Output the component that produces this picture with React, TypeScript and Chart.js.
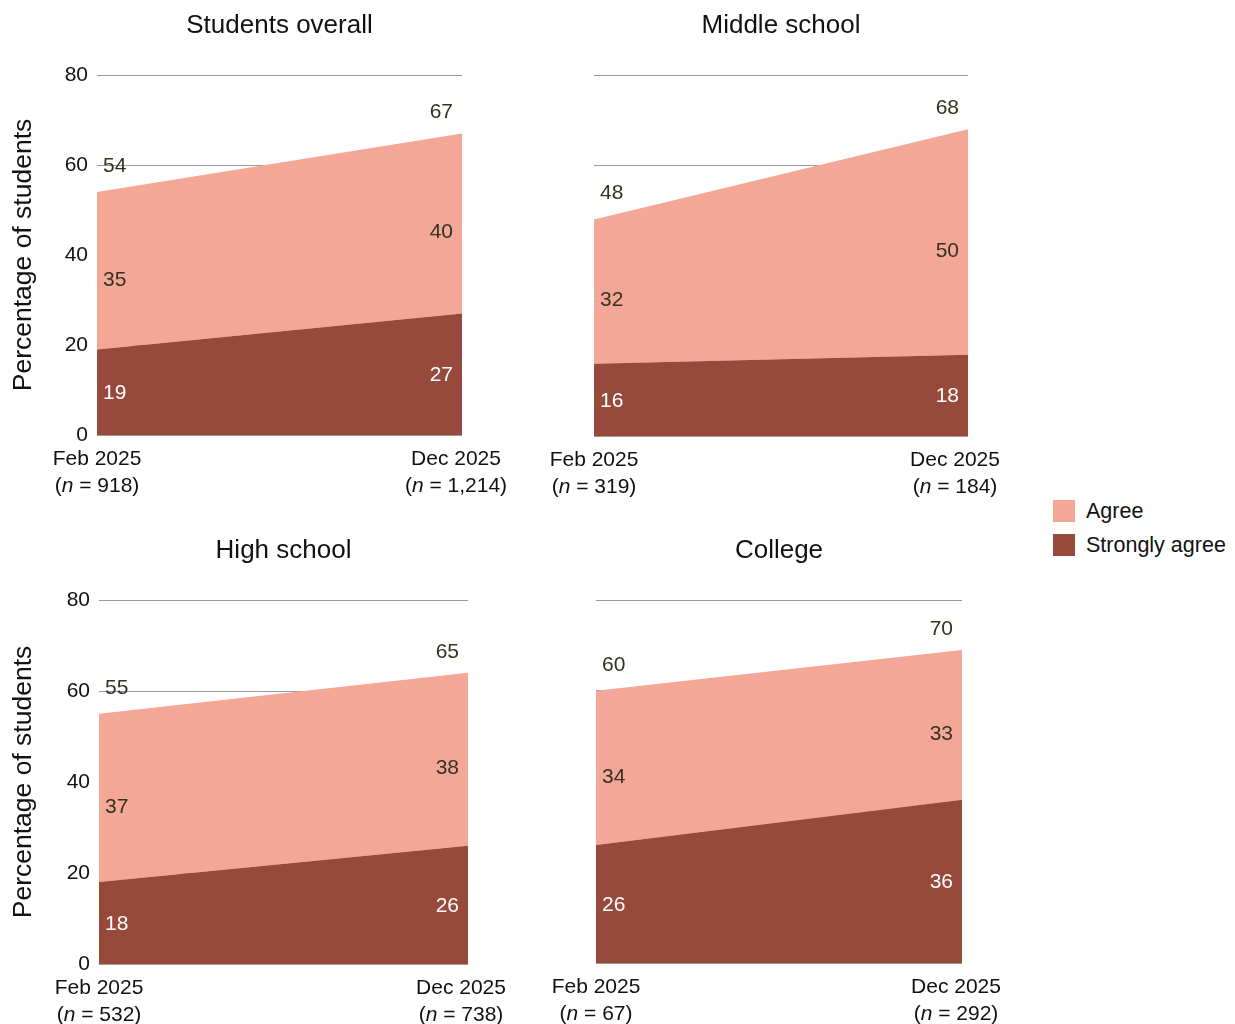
import React, { useEffect, useRef } from 'react';
import { Chart, registerables } from 'chart.js';

Chart.register(...registerables);

const FONT = '"Liberation Sans", Arial, Helvetica, sans-serif';
const AGREE_COLOR = '#F4A797';
const STRONG_COLOR = '#974A3C';
const DARK_TEXT = '#33331f';
const AXIS_TEXT = '#111111';

const periods = ['Feb 2025', 'Dec 2025'];
const yTicks = [0, 20, 40, 60, 80];

const overallStrong = [19, 27];
const overallAgree = [35, 40];
const overallTotal = [54, 67];
const overallN = ['918', '1,214'];

const middleStrong = [16, 18];
const middleAgree = [32, 50];
const middleTotal = [48, 68];
const middleN = ['319', '184'];

const highStrong = [18, 26];
const highAgree = [37, 38];
const highTotal = [55, 65];
const highN = ['532', '738'];

const collegeStrong = [26, 36];
const collegeAgree = [34, 33];
const collegeTotal = [60, 70];
const collegeN = ['67', '292'];

type PanelSpec = {
  title: string;
  strong: number[];
  agree: number[];
  total: number[];
  n: string[];
  left: number;
  top: number;
  width: number;
  height: number;
  axisWidth: number;
  padRight: number;
  xAxisHeight: number;
  showY: boolean;
  decShift: number;
};

const panels: PanelSpec[] = [
  { title: 'Students overall', strong: overallStrong, agree: overallAgree, total: overallTotal, n: overallN,
    left: 0, top: 0, width: 530, height: 510, axisWidth: 97, padRight: 68, xAxisHeight: 75, showY: true, decShift: 6 },
  { title: 'Middle school', strong: middleStrong, agree: middleAgree, total: middleTotal, n: middleN,
    left: 540, top: 0, width: 480, height: 510, axisWidth: 54, padRight: 52, xAxisHeight: 74, showY: false, decShift: 13 },
  { title: 'High school', strong: highStrong, agree: highAgree, total: highTotal, n: highN,
    left: 0, top: 525, width: 530, height: 499, axisWidth: 99, padRight: 62, xAxisHeight: 60, showY: true, decShift: 7 },
  { title: 'College', strong: collegeStrong, agree: collegeAgree, total: collegeTotal, n: collegeN,
    left: 540, top: 525, width: 480, height: 499, axisWidth: 56, padRight: 58, xAxisHeight: 61, showY: false, decShift: 6 },
];

function PanelChart({ p }: { p: PanelSpec }) {
  const ref = useRef<HTMLCanvasElement | null>(null);

  useEffect(() => {
    if (!ref.current) return;

    const labelPlugin = {
      id: 'panelLabels',
      afterDatasetsDraw(chart: any) {
        const ctx = chart.ctx as CanvasRenderingContext2D;
        const xs = chart.scales.x;
        const ys = chart.scales.y;
        ctx.save();
        ctx.font = `21px ${FONT}`;
        ctx.textBaseline = 'middle';
        periods.forEach((_, i) => {
          const x = xs.getPixelForValue(i);
          const y0 = ys.getPixelForValue(0);
          const y1 = ys.getPixelForValue(p.strong[i]);
          const y2 = ys.getPixelForValue(p.strong[i] + p.agree[i]);
          const lx = i === 0 ? x + 6 : x - 9;
          ctx.textAlign = i === 0 ? 'left' : 'right';
          ctx.fillStyle = '#ffffff';
          ctx.fillText(String(p.strong[i]), lx, (y0 + y1) / 2 + 1);
          ctx.fillStyle = DARK_TEXT;
          ctx.fillText(String(p.agree[i]), lx, (y1 + y2) / 2 + 9);
          ctx.fillText(String(p.total[i]), lx, y2 - (i === 0 ? 26 : 21));
        });
        ctx.restore();
      },
      afterDraw(chart: any) {
        const ctx = chart.ctx as CanvasRenderingContext2D;
        const xs = chart.scales.x;
        const bottom = chart.chartArea.bottom;
        ctx.save();
        ctx.fillStyle = AXIS_TEXT;
        ctx.textBaseline = 'middle';
        periods.forEach((lab, i) => {
          const x = xs.getPixelForValue(i) - (i === 1 ? p.decShift : 0);
          ctx.font = `21px ${FONT}`;
          ctx.textAlign = 'center';
          ctx.fillText(lab, x, bottom + 24);
          const parts: [string, string][] = [
            ['(', `21px ${FONT}`],
            ['n', `italic 21px ${FONT}`],
            [` = ${p.n[i]})`, `21px ${FONT}`],
          ];
          let total = 0;
          const widths = parts.map(([t, f]) => {
            ctx.font = f;
            const w = ctx.measureText(t).width;
            total += w;
            return w;
          });
          let cx = x - total / 2;
          ctx.textAlign = 'left';
          parts.forEach(([t, f], k) => {
            ctx.font = f;
            ctx.fillText(t, cx, bottom + 51);
            cx += widths[k];
          });
        });
        ctx.restore();
      },
    };

    const chart = new Chart(ref.current, {
      type: 'line',
      data: {
        labels: periods,
        datasets: [
          {
            label: 'Strongly agree',
            data: p.strong,
            backgroundColor: STRONG_COLOR,
            borderColor: 'rgba(0,0,0,0)',
            borderWidth: 0,
            pointRadius: 0,
            fill: 'origin',
            tension: 0,
          },
          {
            label: 'Agree',
            data: p.agree,
            backgroundColor: AGREE_COLOR,
            borderColor: 'rgba(0,0,0,0)',
            borderWidth: 0,
            pointRadius: 0,
            fill: '-1',
            tension: 0,
          },
        ],
      },
      options: {
        animation: false,
        responsive: false,
        maintainAspectRatio: false,
        events: [],
        layout: { padding: { left: 0, right: p.padRight, top: 0, bottom: 0 } },
        plugins: {
          legend: { display: false },
          tooltip: { enabled: false },
          title: {
            display: true,
            text: p.title,
            fullSize: false,
            color: AXIS_TEXT,
            font: { family: FONT, size: 26, weight: 'normal', lineHeight: 1.2 },
            padding: { top: 10.5, bottom: 33.3 },
          },
        },
        scales: {
          x: {
            type: 'category',
            offset: false,
            grid: { display: false },
            border: { display: false },
            ticks: { display: false },
            afterFit: (s: any) => {
              s.height = p.xAxisHeight;
            },
          },
          y: {
            stacked: true,
            min: 0,
            max: 80,
            afterBuildTicks: (s: any) => {
              s.ticks = yTicks.map((v) => ({ value: v }));
            },
            ticks: {
              display: p.showY,
              padding: 9,
              color: AXIS_TEXT,
              font: { family: FONT, size: 21 },
            },
            grid: { color: '#9a9a9a', lineWidth: 1, drawTicks: false },
            border: { display: false },
            title: {
              display: p.showY,
              text: 'Percentage of students',
              color: AXIS_TEXT,
              font: { family: FONT, size: 26.5, lineHeight: 1.2 },
              padding: { top: 8, bottom: 0 },
            },
            afterFit: (s: any) => {
              s.width = p.axisWidth;
            },
          },
        },
      } as any,
      plugins: [labelPlugin],
    });
    return () => chart.destroy();
  }, []);

  return (
    <canvas
      ref={ref}
      width={p.width}
      height={p.height}
      style={{ position: 'absolute', left: p.left, top: p.top, width: p.width, height: p.height }}
    />
  );
}

const legendItems = [
  { label: 'Agree', color: AGREE_COLOR },
  { label: 'Strongly agree', color: STRONG_COLOR },
];

export default function App() {
  return (
    <div>
      {panels.map((p) => (
        <PanelChart key={p.title} p={p} />
      ))}
      {legendItems.map((it, i) => (
        <div
          key={it.label}
          style={{
            position: 'absolute',
            left: 1053,
            top: 500 + i * 34,
            height: 22,
            display: 'flex',
            alignItems: 'center',
            fontFamily: FONT,
            fontSize: 21.5,
            color: AXIS_TEXT,
            whiteSpace: 'nowrap',
          }}
        >
          <span style={{ display: 'inline-block', width: 22, height: 22, background: it.color, marginRight: 11 }} />
          <span>{it.label}</span>
        </div>
      ))}
    </div>
  );
}
